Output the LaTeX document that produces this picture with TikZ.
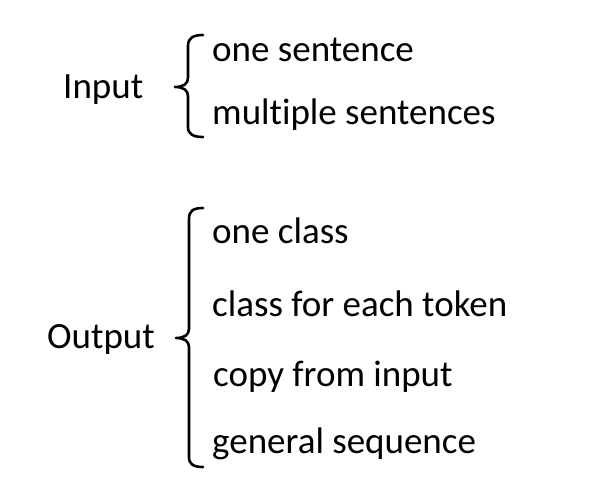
\documentclass[tikz,border=0pt]{standalone}
\usepackage{fontspec}
\setmainfont{Carlito}[RawFeature={-liga;-clig;-dlig}]
\begin{document}
\begin{tikzpicture}[x=1pt,y=-1pt,
  lbl/.style={anchor=base west,inner sep=0pt,font=\fontsize{37}{40}\selectfont},
  brace/.style={draw=black,line width=2.6pt,line cap=round,line join=round}]
\useasboundingbox (0,0) rectangle (594,495);
\node[lbl] (in) at (63,98) {Input};
\node[lbl] (s1) at (212,62) {one sentence};
\node[lbl] (s2) at (212,124) {multiple sentences};
\node[lbl] (out) at (47,348) {Output};
\node[lbl] (o1) at (212,243) {one class};
\node[lbl] (o2) at (212,316) {class for each token};
\node[lbl] (o3) at (213,386) {copy from input};
\node[lbl] (o4) at (212,453) {general sequence};
% input brace
\path[brace] (203,35) .. controls (193,35) and (188,38) .. (188,46) -- (188,78)
  .. controls (188,84) and (183,87) .. (175,87)
  .. controls (183,87) and (188,90) .. (188,96) -- (188,127)
  .. controls (188,134) and (193,137) .. (203,137);
% output brace
\path[brace] (203,208) .. controls (193,208) and (189,211) .. (189,219) -- (189,329)
  .. controls (189,335) and (184,338) .. (176,338)
  .. controls (184,338) and (189,341) .. (189,347) -- (189,457)
  .. controls (189,464) and (193,467) .. (203,467);
\end{tikzpicture}
\end{document}
